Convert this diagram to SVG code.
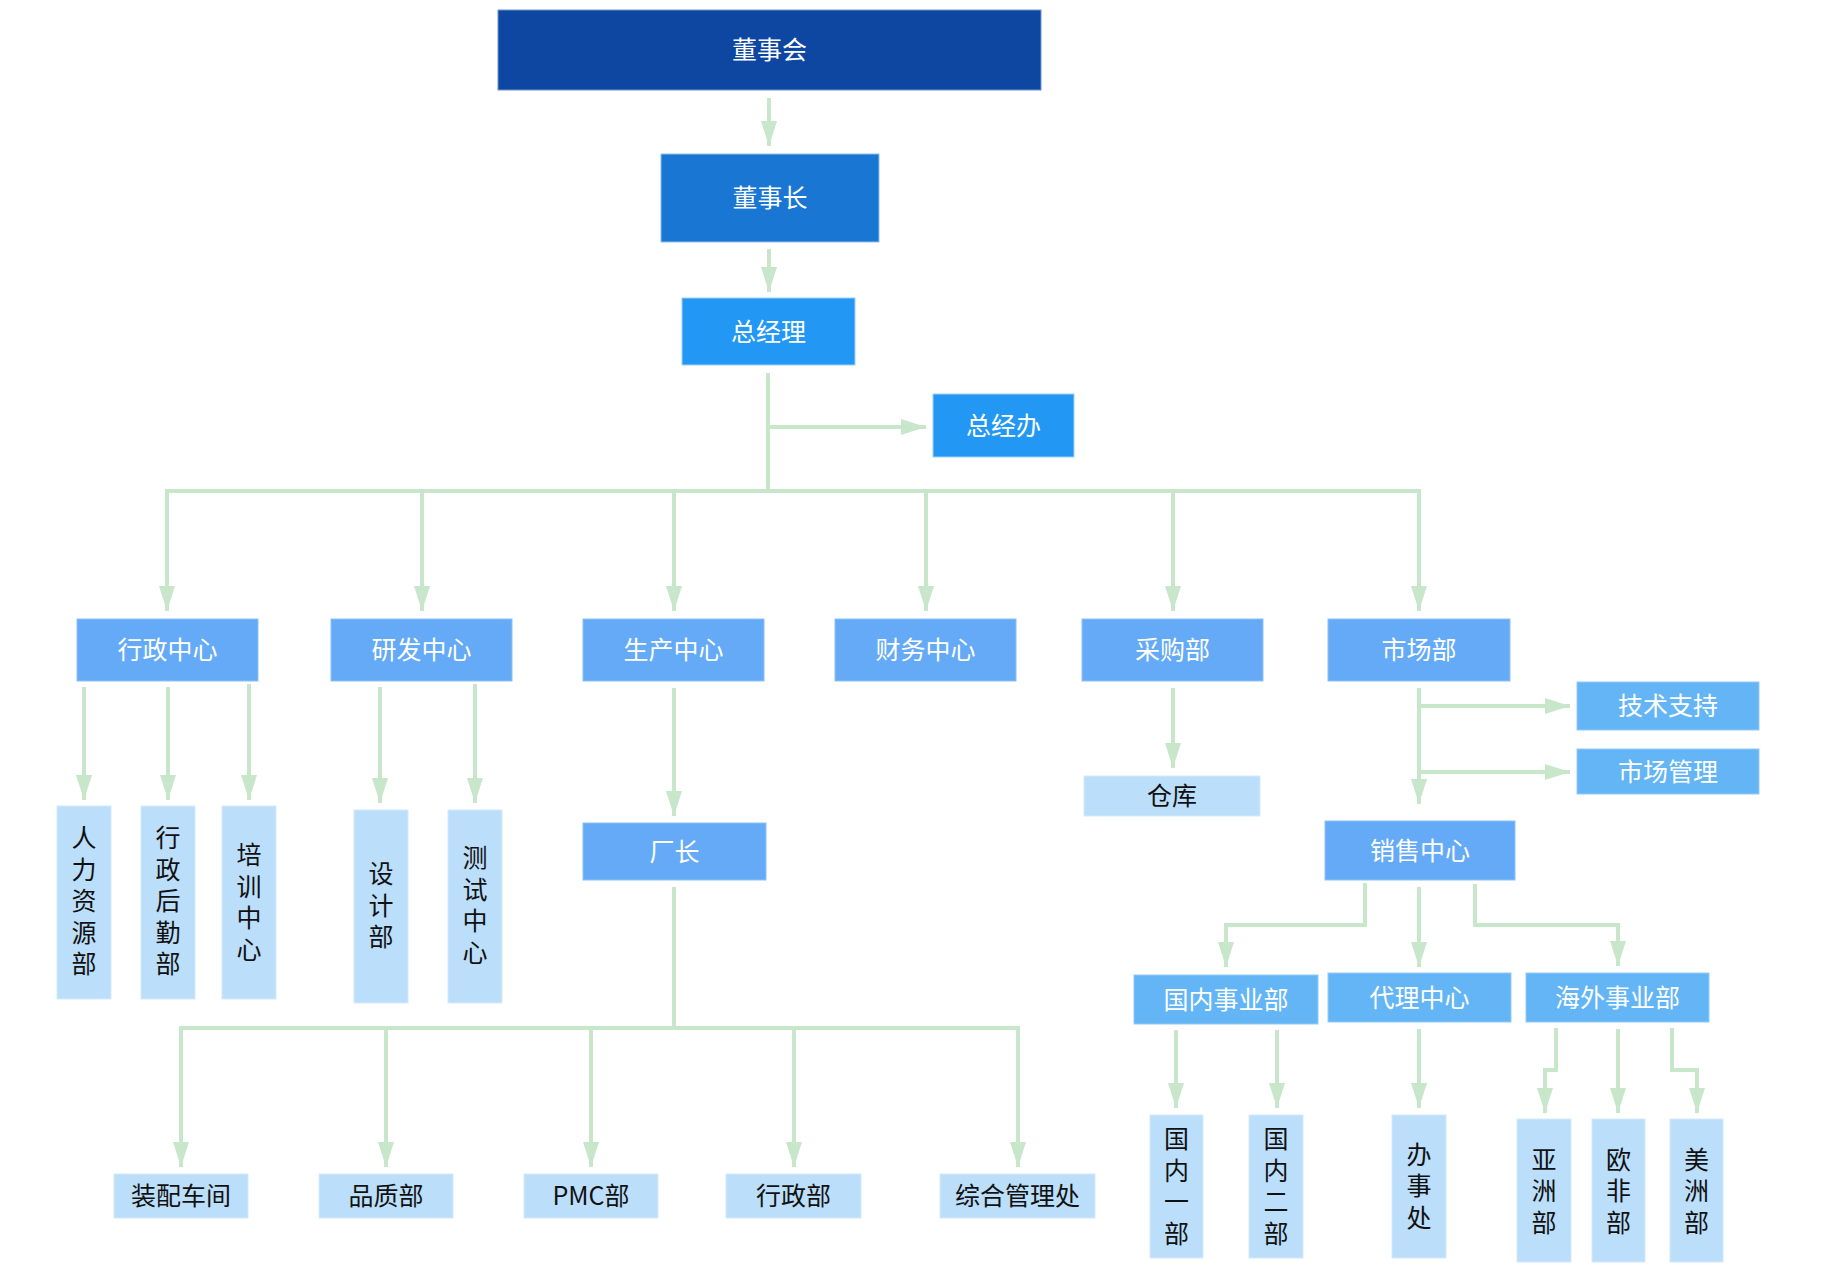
<svg xmlns="http://www.w3.org/2000/svg" width="1828" height="1288" viewBox="0 0 1828 1288">
<style>
text{font-family:"Noto Sans CJK SC","Noto Sans",sans-serif;font-size:25px;text-anchor:middle;dominant-baseline:central}
.v{writing-mode:vertical-rl;text-orientation:upright;letter-spacing:6.5px}
.w{fill:#ffffff}
.k{fill:#111111}
.c1{fill:#0e47a1;stroke:#6f95d2;stroke-width:1}
.c2{fill:#1a76d3;stroke:#90c0ef;stroke-width:1}
.c3{fill:#2297f3;stroke:#9fd0f8;stroke-width:1}
.c4{fill:#64aaf6;stroke:#8fc2f6;stroke-width:1}
.c5{fill:#64b5f6;stroke:#93cbf8;stroke-width:1}
.c6{fill:#bbdefb;stroke:#d4eafc;stroke-width:1}
#connectors path{fill:none;stroke:#c8e6c9;stroke-width:4}
</style>
<defs>
<marker id="ah" markerUnits="userSpaceOnUse" markerWidth="25" markerHeight="16" refX="25" refY="8" orient="auto">
<path d="M0,0 L25,8 L0,16 z" fill="#c8e6c9"/>
</marker>
</defs>
<rect width="1828" height="1288" fill="#ffffff"/>
<g id="connectors">
<path d="M769,98 V146" marker-end="url(#ah)"/>
<path d="M769,249 V292" marker-end="url(#ah)"/>
<path d="M768,373 V493"/>
<path d="M768,427 H926" marker-end="url(#ah)"/>
<path d="M167,491 H1419"/>
<path d="M167,489 V611" marker-end="url(#ah)"/>
<path d="M422,489 V611" marker-end="url(#ah)"/>
<path d="M674,489 V611" marker-end="url(#ah)"/>
<path d="M926,489 V611" marker-end="url(#ah)"/>
<path d="M1173,489 V611" marker-end="url(#ah)"/>
<path d="M1419,489 V611" marker-end="url(#ah)"/>
<path d="M84,687 V800" marker-end="url(#ah)"/>
<path d="M168,687 V800" marker-end="url(#ah)"/>
<path d="M249,684 V800" marker-end="url(#ah)"/>
<path d="M380,687 V803" marker-end="url(#ah)"/>
<path d="M475,684 V803" marker-end="url(#ah)"/>
<path d="M674,688 V816" marker-end="url(#ah)"/>
<path d="M674,887 V1030"/>
<path d="M181,1028 H1018"/>
<path d="M181,1026 V1167" marker-end="url(#ah)"/>
<path d="M386,1026 V1167" marker-end="url(#ah)"/>
<path d="M591,1026 V1167" marker-end="url(#ah)"/>
<path d="M794,1026 V1167" marker-end="url(#ah)"/>
<path d="M1018,1026 V1167" marker-end="url(#ah)"/>
<path d="M1173,688 V768" marker-end="url(#ah)"/>
<path d="M1419,688 V804" marker-end="url(#ah)"/>
<path d="M1419,706 H1570" marker-end="url(#ah)"/>
<path d="M1419,772 H1570" marker-end="url(#ah)"/>
<path d="M1365,883 V925 H1226 V967" marker-end="url(#ah)"/>
<path d="M1419,887 V967" marker-end="url(#ah)"/>
<path d="M1475,884 V925 H1618 V966" marker-end="url(#ah)"/>
<path d="M1176,1030 V1108" marker-end="url(#ah)"/>
<path d="M1277,1030 V1108" marker-end="url(#ah)"/>
<path d="M1419,1029 V1108" marker-end="url(#ah)"/>
<path d="M1556,1028 V1070 H1545 V1113" marker-end="url(#ah)"/>
<path d="M1618,1029 V1113" marker-end="url(#ah)"/>
<path d="M1672,1028 V1070 H1697 V1113" marker-end="url(#ah)"/>
</g>
<g id="n-dongshihui"><rect class="c1" x="498" y="10" width="543" height="80"/><text class="w" x="769.5" y="48">董事会</text></g>
<g id="n-dongshizhang"><rect class="c2" x="661" y="154" width="218" height="88"/><text class="w" x="770" y="196">董事长</text></g>
<g id="n-zongjingli"><rect class="c3" x="682" y="298" width="173" height="67"/><text class="w" x="768.5" y="329.5">总经理</text></g>
<g id="n-zongjingban"><rect class="c3" x="933" y="394" width="141" height="63"/><text class="w" x="1003.5" y="423.5">总经办</text></g>
<g id="n-xingzhengzhongxin"><rect class="c4" x="77" y="619" width="181" height="62"/><text class="w" x="167.5" y="648">行政中心</text></g>
<g id="n-yanfazhongxin"><rect class="c4" x="331" y="619" width="181" height="62"/><text class="w" x="421.5" y="648">研发中心</text></g>
<g id="n-shengchanzhongxin"><rect class="c4" x="583" y="619" width="181" height="62"/><text class="w" x="673.5" y="648">生产中心</text></g>
<g id="n-caiwuzhongxin"><rect class="c4" x="835" y="619" width="181" height="62"/><text class="w" x="925.5" y="648">财务中心</text></g>
<g id="n-caigoubu"><rect class="c4" x="1082" y="619" width="181" height="62"/><text class="w" x="1172.5" y="648">采购部</text></g>
<g id="n-shichangbu"><rect class="c4" x="1328" y="619" width="182" height="62"/><text class="w" x="1419" y="648">市场部</text></g>
<g id="n-renliziyuanbu"><rect class="c6" x="57" y="806" width="54" height="193"/><text class="k v" x="84" y="904">人力资源部</text></g>
<g id="n-xingzhenghouqinbu"><rect class="c6" x="141" y="806" width="54" height="193"/><text class="k v" x="168" y="904">行政后勤部</text></g>
<g id="n-peixunzhongxin"><rect class="c6" x="222" y="806" width="54" height="193"/><text class="k v" x="249" y="905">培训中心</text></g>
<g id="n-shejibu"><rect class="c6" x="354" y="810" width="54" height="193"/><text class="k v" x="381" y="908.5">设计部</text></g>
<g id="n-ceshizhongxin"><rect class="c6" x="448" y="810" width="54" height="193"/><text class="k v" x="475" y="908">测试中心</text></g>
<g id="n-changzhang"><rect class="c4" x="583" y="823" width="183" height="57"/><text class="w" x="674.5" y="849.5">厂长</text></g>
<g id="n-zhuangpeichejian"><rect class="c6" x="114" y="1174" width="134" height="44"/><text class="k" x="181" y="1194">装配车间</text></g>
<g id="n-pinzhibu"><rect class="c6" x="319" y="1174" width="134" height="44"/><text class="k" x="386" y="1194">品质部</text></g>
<g id="n-pmcbu"><rect class="c6" x="524" y="1174" width="134" height="44"/><text class="k" x="591" y="1194">PMC部</text></g>
<g id="n-xingzhengbu"><rect class="c6" x="726" y="1174" width="135" height="44"/><text class="k" x="793.5" y="1194">行政部</text></g>
<g id="n-zongheguanlichu"><rect class="c6" x="940" y="1174" width="155" height="44"/><text class="k" x="1017.5" y="1194">综合管理处</text></g>
<g id="n-cangku"><rect class="c6" x="1084" y="776" width="176" height="40"/><text class="k" x="1172" y="794">仓库</text></g>
<g id="n-jishuzhichi"><rect class="c5" x="1577" y="682" width="182" height="48"/><text class="w" x="1668" y="704">技术支持</text></g>
<g id="n-shichangguanli"><rect class="c5" x="1577" y="749" width="182" height="45"/><text class="w" x="1668" y="769.5">市场管理</text></g>
<g id="n-xiaoshouzhongxin"><rect class="c4" x="1325" y="821" width="190" height="59"/><text class="w" x="1420" y="848.5">销售中心</text></g>
<g id="n-guoneishiyebu"><rect class="c5" x="1134" y="975" width="184" height="49"/><text class="w" x="1226" y="997.5">国内事业部</text></g>
<g id="n-dailizhongxin"><rect class="c5" x="1328" y="973" width="183" height="49"/><text class="w" x="1419.5" y="995.5">代理中心</text></g>
<g id="n-haiwaishiyebu"><rect class="c5" x="1526" y="973" width="183" height="49"/><text class="w" x="1617.5" y="995.5">海外事业部</text></g>
<g id="n-guoneiyibu"><rect class="c6" x="1150" y="1115" width="53" height="143"/><text class="k v" x="1176.5" y="1189">国内一部</text></g>
<g id="n-guoneierbu"><rect class="c6" x="1249" y="1115" width="54" height="143"/><text class="k v" x="1276" y="1189">国内二部</text></g>
<g id="n-banshichu"><rect class="c6" x="1392" y="1115" width="54" height="143"/><text class="k v" x="1419" y="1189">办事处</text></g>
<g id="n-yazhoubu"><rect class="c6" x="1517" y="1119" width="54" height="143"/><text class="k v" x="1544" y="1194">亚洲部</text></g>
<g id="n-oufeibu"><rect class="c6" x="1592" y="1119" width="53" height="143"/><text class="k v" x="1618.5" y="1194">欧非部</text></g>
<g id="n-meizhoubu"><rect class="c6" x="1670" y="1119" width="53" height="143"/><text class="k v" x="1696.5" y="1194">美洲部</text></g>
</svg>
